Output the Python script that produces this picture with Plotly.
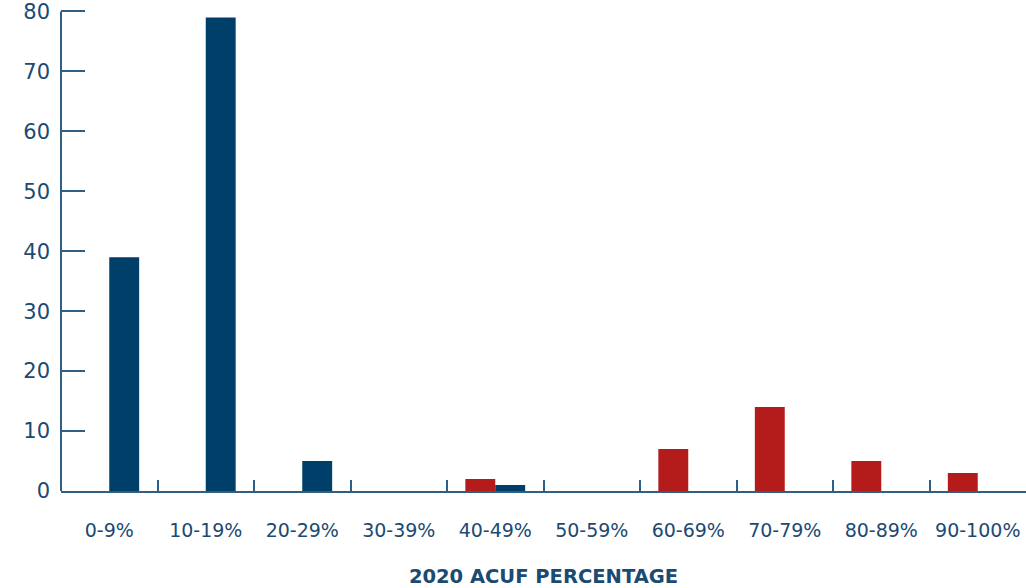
import plotly.graph_objects as go

categories = ["0-9%", "10-19%", "20-29%", "30-39%", "40-49%", "50-59%", "60-69%", "70-79%", "80-89%", "90-100%"]
red_values = [0, 0, 0, 0, 2, 0, 7, 14, 5, 3]
blue_values = [39, 79, 5, 0, 1, 0, 0, 0, 0, 0]
y_ticks = [0, 10, 20, 30, 40, 50, 60, 70, 80]

navy = "#1b4a72"
axis_col = "#2f5f85"

fig = go.Figure()
fig.add_trace(go.Bar(x=categories, y=red_values, marker_color="#b31c1a", marker_line_width=0, showlegend=False))
fig.add_trace(go.Bar(x=categories, y=blue_values, marker_color="#003f69", marker_line_width=0, showlegend=False))

# y axis line drawn from 0 up to the top tick
fig.add_shape(type="line", xref="paper", yref="y", x0=0, x1=0, y0=0, y1=y_ticks[-1],
              line=dict(color=axis_col, width=2), layer="above")

fig.update_layout(
    width=1026, height=588,
    margin=dict(l=61, r=0, t=0, b=97),
    barmode="group", bargap=0.38, bargroupgap=0,
    plot_bgcolor="white", paper_bgcolor="white",
    font=dict(family="DejaVu Sans", color=navy),
    xaxis=dict(
        type="category", showgrid=False, showline=True, linecolor=axis_col, linewidth=2,
        ticks="inside", tickson="boundaries", ticklen=11, tickwidth=2, tickcolor=axis_col,
        tickfont=dict(size=19, color=navy), ticklabelstandoff=21,
        title=dict(text="<b>2020 ACUF PERCENTAGE</b>", font=dict(size=19.5, color=navy), standoff=31),
    ),
    yaxis=dict(
        range=[0, 80.9], tickvals=y_ticks, showgrid=False, zeroline=False,
        showline=False, ticklabeloverflow="allow",
        ticks="inside", ticklen=24, tickwidth=2, tickcolor=axis_col,
        tickfont=dict(size=21, color=navy), ticklabelstandoff=10,
    ),
)

fig.write_html("out.html", config={"displayModeBar": False},
               post_script="document.body.style.margin='0';document.body.style.overflow='hidden';")
